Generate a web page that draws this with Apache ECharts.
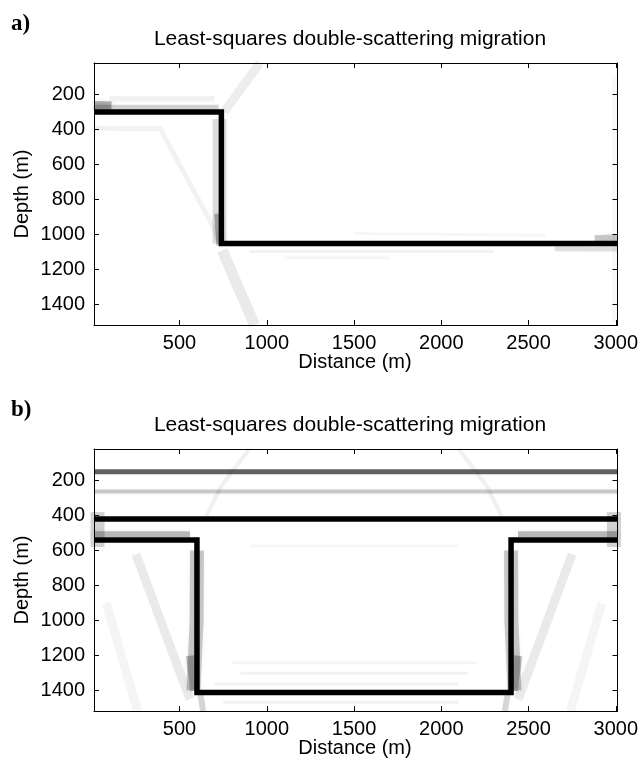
<!DOCTYPE html>
<html>
<head>
<meta charset="utf-8">
<script src="https://cdn.jsdelivr.net/npm/echarts@6/dist/echarts.min.js"></script>
<style>
  html, body { margin: 0; padding: 0; background: #fff; }
  #chart { width: 641px; height: 760px; }
</style>
</head>
<body>
<div id="chart"></div>
<script>
// Axis ticks
const distanceTicks = [500, 1000, 1500, 2000, 2500, 3000];
const depthTicks = [200, 400, 600, 800, 1000, 1200, 1400];
const distanceRange = [10, 3010];
const depthRange = [20, 1516];

// Panel a: true reflector model (distance m, depth m)
const reflectorA = [[10, 300], [740, 300], [740, 1050], [3010, 1050]];
// Panel a: migration image energy (smears and artefacts)
const smearA_shallow = [[10, 284], [725, 284]];
const smearA_corner = [[10, 262], [110, 266]];
const smearA_faint = [[100, 224], [700, 224]];
const smearA_wall = [[730, 340], [730, 1050]];
const smearA_wallBase = [[722, 880], [734, 1060]];
const diffA_up = [[755, 300], [960, 20]];
const diffA_limb = [[10, 392], [390, 396], [690, 950], [730, 1040]];
const diffA_down = [[745, 1090], [930, 1516]];
const smearA_deepBelow = [[2650, 1080], [3010, 1082]];
const smearA_deepAbove = [[2880, 1024], [3010, 1018]];
const streakA_1 = [[900, 1096], [2300, 1096]];
const streakA_2 = [[1100, 1132], [1700, 1132]];
const streakA_3 = [[1500, 994], [2600, 1004]];
const edgeA = [[2992, 100], [2992, 1500]];

// Panel b: true reflector model
const shallowB = [[10, 150], [3010, 150]];
const ghostB = [[10, 262], [3010, 262]];
const topB = [[10, 420], [3010, 420]];
const basinB = [[10, 540], [600, 540], [600, 1410], [2400, 1410], [2400, 540], [3010, 540]];
// Panel b: migration image energy
const smearB_leftShelf = [[10, 507], [560, 507]];
const smearB_rightShelf = [[2440, 507], [3010, 507]];
const smearB_leftEdge = [[30, 380], [30, 580]];
const smearB_rightEdge = [[2990, 380], [2990, 580]];
const smearB_leftWall = [[600, 600], [598, 1000], [580, 1400]];
const smearB_leftWallBase = [[560, 1200], [585, 1400]];
const smearB_rightWall = [[2400, 600], [2402, 1000], [2420, 1400]];
const smearB_rightWallBase = [[2440, 1200], [2415, 1400]];
const diffB_leftNear = [[250, 620], [560, 1450]];
const diffB_leftFar = [[80, 900], [260, 1516]];
const diffB_rightNear = [[2750, 620], [2440, 1450]];
const diffB_rightFar = [[2920, 900], [2740, 1516]];
const tailB_left = [[620, 1420], [635, 1516]];
const tailB_right = [[2380, 1420], [2365, 1516]];
const diffB_leftUp = [[645, 420], [740, 230], [900, 20]];
const diffB_rightUp = [[2355, 420], [2260, 230], [2100, 20]];
const streakB_1 = [[800, 1240], [2200, 1240]];
const streakB_2 = [[850, 1300], [2150, 1300]];
const streakB_3 = [[700, 1362], [2100, 1362]];
const streakB_4 = [[750, 1466], [2100, 1466]];
const streakB_5 = [[900, 572], [2100, 572]];

const FONT = '"Liberation Sans", Arial, Helvetica, sans-serif';
const SERIF = '"Liberation Serif", "Times New Roman", serif';
const GRID_LEFT = 94, GRID_W = 524, GRID_H = 262;
const TOPS = [63, 449];

// A line trace in one panel; soft traces get a blurred halo like image energy.
function trace(gridIdx, data, color, width, soft) {
  const ls = { color: color, width: width, cap: 'butt', join: 'miter' };
  if (soft) { ls.shadowBlur = 5; ls.shadowColor = color; }
  return {
    type: 'line',
    xAxisIndex: gridIdx * 2,
    yAxisIndex: gridIdx * 2,
    data: data,
    showSymbol: false,
    silent: true,
    animation: false,
    clip: true,
    lineStyle: ls
  };
}
const energy = (g, d, c, w) => trace(g, d, c, w, true);

const plain = v => String(v);
const grids = TOPS.map(t => ({ left: GRID_LEFT, top: t, width: GRID_W, height: GRID_H }));
const xAxes = [];
const yAxes = [];
const frameLine = { show: true, onZero: false, lineStyle: { color: '#000', width: 1 } };
[0, 1].forEach(g => {
  xAxes.push({
    type: 'value', gridIndex: g, position: 'bottom',
    min: distanceRange[0], max: distanceRange[1],
    axisLine: frameLine,
    axisTick: { show: true, inside: true, length: 5, customValues: distanceTicks, lineStyle: { color: '#000' } },
    axisLabel: { customValues: distanceTicks, formatter: plain, color: '#000', fontSize: 20, fontFamily: FONT, margin: 8 },
    splitLine: { show: false }
  });
  xAxes.push({
    type: 'value', gridIndex: g, position: 'top',
    min: distanceRange[0], max: distanceRange[1],
    axisLine: frameLine,
    axisTick: { show: true, inside: true, length: 5, customValues: distanceTicks, lineStyle: { color: '#000' } },
    axisLabel: { show: false },
    splitLine: { show: false }
  });
  yAxes.push({
    type: 'value', gridIndex: g, position: 'left', inverse: true,
    min: depthRange[0], max: depthRange[1],
    axisLine: frameLine,
    axisTick: { show: true, inside: true, length: 5, customValues: depthTicks, lineStyle: { color: '#000' } },
    axisLabel: { customValues: depthTicks, formatter: plain, color: '#000', fontSize: 20, fontFamily: FONT, margin: 9 },
    splitLine: { show: false }
  });
  yAxes.push({
    type: 'value', gridIndex: g, position: 'right', inverse: true,
    min: depthRange[0], max: depthRange[1],
    axisLine: frameLine,
    axisTick: { show: true, inside: true, length: 5, customValues: depthTicks, lineStyle: { color: '#000' } },
    axisLabel: { show: false },
    splitLine: { show: false }
  });
});

const series = [
  // panel a energy
  energy(0, smearA_faint, 'rgba(0,0,0,0.05)', 6),
  energy(0, smearA_shallow, 'rgba(0,0,0,0.16)', 9),
  energy(0, smearA_corner, 'rgba(0,0,0,0.3)', 9),
  energy(0, smearA_wall, 'rgba(0,0,0,0.12)', 14),
  energy(0, smearA_wallBase, 'rgba(0,0,0,0.25)', 8),
  energy(0, diffA_up, 'rgba(0,0,0,0.07)', 9),
  energy(0, diffA_limb, 'rgba(0,0,0,0.05)', 5),
  energy(0, diffA_down, 'rgba(0,0,0,0.08)', 11),
  energy(0, smearA_deepBelow, 'rgba(0,0,0,0.12)', 5),
  energy(0, smearA_deepAbove, 'rgba(0,0,0,0.2)', 7),
  energy(0, streakA_1, 'rgba(0,0,0,0.05)', 3),
  energy(0, streakA_2, 'rgba(0,0,0,0.04)', 3),
  energy(0, streakA_3, 'rgba(0,0,0,0.03)', 3),
  energy(0, edgeA, 'rgba(0,0,0,0.03)', 5),
  // panel a reflectors
  trace(0, reflectorA, '#000', 5.5),
  // panel b energy
  energy(1, streakB_1, 'rgba(0,0,0,0.04)', 3),
  energy(1, streakB_2, 'rgba(0,0,0,0.05)', 3),
  energy(1, streakB_3, 'rgba(0,0,0,0.05)', 3),
  energy(1, streakB_4, 'rgba(0,0,0,0.05)', 3),
  energy(1, streakB_5, 'rgba(0,0,0,0.03)', 3),
  energy(1, diffB_leftNear, 'rgba(0,0,0,0.08)', 9),
  energy(1, diffB_leftFar, 'rgba(0,0,0,0.04)', 9),
  energy(1, diffB_rightNear, 'rgba(0,0,0,0.08)', 9),
  energy(1, diffB_rightFar, 'rgba(0,0,0,0.04)', 9),
  energy(1, diffB_leftUp, 'rgba(0,0,0,0.06)', 4),
  energy(1, diffB_rightUp, 'rgba(0,0,0,0.06)', 4),
  energy(1, smearB_leftShelf, 'rgba(0,0,0,0.25)', 6),
  energy(1, smearB_rightShelf, 'rgba(0,0,0,0.25)', 6),
  energy(1, smearB_leftEdge, 'rgba(0,0,0,0.16)', 14),
  energy(1, smearB_rightEdge, 'rgba(0,0,0,0.16)', 14),
  energy(1, smearB_leftWall, 'rgba(0,0,0,0.2)', 14),
  energy(1, smearB_leftWallBase, 'rgba(0,0,0,0.25)', 8),
  energy(1, smearB_rightWall, 'rgba(0,0,0,0.2)', 14),
  energy(1, smearB_rightWallBase, 'rgba(0,0,0,0.25)', 8),
  energy(1, tailB_left, 'rgba(0,0,0,0.15)', 6),
  energy(1, tailB_right, 'rgba(0,0,0,0.15)', 6),
  energy(1, ghostB, 'rgba(0,0,0,0.2)', 4),
  trace(1, shallowB, 'rgba(0,0,0,0.62)', 5),
  // panel b reflectors
  trace(1, topB, '#000', 5.5),
  trace(1, basinB, '#000', 5.5)
];

const graphic = [];
const PANEL_LABELS = ['a)', 'b)'];
TOPS.forEach((t, i) => {
  const dy = t - TOPS[0];
  graphic.push({ type: 'text', left: 11, top: 13 + dy,
    style: { text: PANEL_LABELS[i], font: 'bold 23px ' + SERIF, fill: '#000' } });
  graphic.push({ type: 'text', x: 350, y: 39 + dy,
    style: { text: 'Least-squares double-scattering migration', font: '21px ' + FONT, fill: '#000',
             textAlign: 'center', textVerticalAlign: 'middle' } });
  graphic.push({ type: 'text', x: 355, y: 362 + dy,
    style: { text: 'Distance (m)', font: '20px ' + FONT, fill: '#000',
             textAlign: 'center', textVerticalAlign: 'middle' } });
  graphic.push({ type: 'text', x: 22, y: 194 + dy, rotation: Math.PI / 2,
    style: { text: 'Depth (m)', font: '20px ' + FONT, fill: '#000',
             textAlign: 'center', textVerticalAlign: 'middle' } });
});

const chart = echarts.init(document.getElementById('chart'), null, { renderer: 'canvas' });
chart.setOption({
  animation: false,
  backgroundColor: '#fff',
  grid: grids,
  xAxis: xAxes,
  yAxis: yAxes,
  series: series,
  graphic: graphic
});
</script>
</body>
</html>
